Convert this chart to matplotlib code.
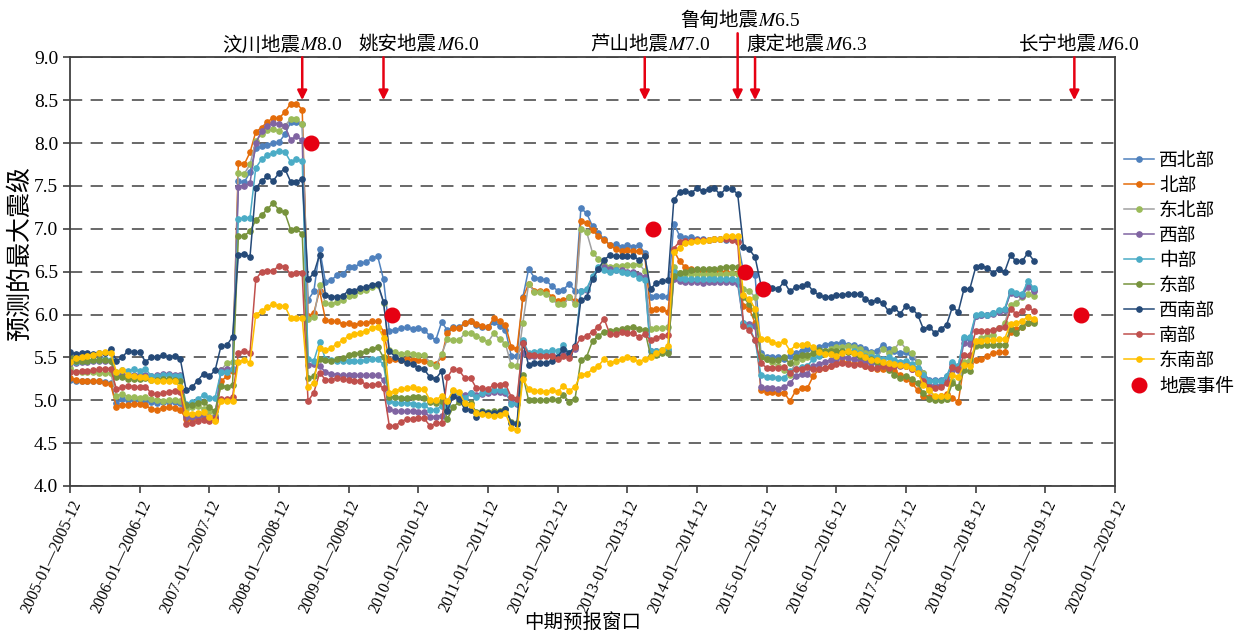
import numpy as np
import matplotlib
matplotlib.use('Agg')
import matplotlib.pyplot as plt

plt.rcParams['font.family'] = ['Liberation Serif', 'Noto Sans CJK SC']
plt.rcParams['mathtext.fontset'] = 'stix'
plt.rcParams['axes.unicode_minus'] = False

# one point per 12-month window, window start moves by one month from 2005-01
years = list(range(2005, 2021))
tick_labels = [f'{y}-01—{y}-12' for y in years]

regions = ['西北部', '北部', '东北部', '西部', '中部', '东部', '西南部', '南部', '东南部']

xibei = [
  5.24, 5.23, 5.22, 5.22, 5.22, 5.22, 5.21, 5.20,
  4.97, 5.01, 5.00, 5.00, 5.00, 5.00, 4.98, 4.97, 4.98, 4.98, 4.98, 4.97,
  4.82, 4.83, 4.84, 4.82, 4.80, 4.80,
  5.33, 5.33, 5.35,
  7.56, 7.54, 7.66, 7.94, 7.96, 7.98, 8.00, 8.01, 8.10, 8.24, 8.24, 8.22,
  6.17, 6.27, 6.76, 6.38, 6.40, 6.46, 6.47, 6.55, 6.55, 6.60, 6.61, 6.66, 6.68, 6.41,
  5.81, 5.82, 5.84, 5.85, 5.83, 5.84, 5.82, 5.75, 5.70, 5.91, 5.82, 5.85,
  5.85, 5.90, 5.92, 5.88, 5.86, 5.85, 5.91, 5.87, 5.82, 5.52, 5.52,
  6.20, 6.53, 6.43, 6.42, 6.40, 6.33, 6.28, 6.29, 6.36, 6.27,
  7.24, 7.18, 7.03, 6.95, 6.88, 6.81, 6.82, 6.79, 6.81, 6.79, 6.81, 6.72,
  6.20, 6.22, 6.22, 6.20,
  7.06, 6.92, 6.89, 6.90, 6.88, 6.88, 6.87, 6.88, 6.88, 6.87, 6.88, 6.86,
  6.50, 6.49, 6.46,
  5.55, 5.51, 5.50, 5.50, 5.48, 5.52, 5.55, 5.58, 5.60, 5.60, 5.62, 5.65,
  5.66, 5.66, 5.68, 5.65, 5.65, 5.62, 5.60, 5.56, 5.58, 5.65, 5.60, 5.58,
  5.55, 5.56, 5.50, 5.45, 5.32, 5.24, 5.24, 5.24, 5.28, 5.42, 5.40, 5.72,
  5.72, 5.98, 6.00, 6.00, 6.02, 6.04, 6.05, 6.26, 6.24, 6.23, 6.35, 6.29,
]

bei = [
  5.26, 5.24, 5.22, 5.22, 5.23, 5.22, 5.20, 5.19,
  4.92, 4.95, 4.95, 4.96, 4.96, 4.94, 4.90, 4.89, 4.91, 4.92, 4.91, 4.89,
  4.78, 4.77, 4.79, 4.80, 4.78, 4.77,
  5.22, 5.28, 5.34,
  7.77, 7.75, 7.89, 8.13, 8.18, 8.25, 8.29, 8.29, 8.36, 8.46, 8.46, 8.39,
  5.98, 6.02, 6.28, 5.94, 5.92, 5.92, 5.89, 5.90, 5.88, 5.90, 5.90, 5.92, 5.92, 5.80,
  5.47, 5.48, 5.47, 5.48, 5.47, 5.47, 5.46, 5.43, 5.42, 5.50, 5.79, 5.84,
  5.84, 5.90, 5.93, 5.89, 5.87, 5.85, 5.96, 5.92, 5.88, 5.62, 5.60,
  6.19, 6.36, 6.28, 6.28, 6.27, 6.21, 6.16, 6.17, 6.20, 6.16,
  7.09, 7.07, 6.98, 6.92, 6.87, 6.81, 6.76, 6.74, 6.75, 6.74, 6.74, 6.68,
  6.05, 6.06, 6.06, 6.03,
  6.75, 6.62, 6.55, 6.53, 6.52, 6.51, 6.51, 6.51, 6.50, 6.50, 6.49, 6.48,
  6.10, 6.07, 5.90,
  5.12, 5.10, 5.10, 5.09, 5.09, 4.99, 5.11, 5.14, 5.14, 5.28, 5.36, 5.38,
  5.40, 5.43, 5.45, 5.44, 5.42, 5.43, 5.40, 5.38, 5.36, 5.37, 5.36, 5.34,
  5.30, 5.25, 5.20, 5.12, 5.05, 5.04, 5.04, 5.05, 5.07, 5.03, 4.98, 5.42,
  5.44, 5.47, 5.48, 5.52, 5.55, 5.56, 5.56, 5.80, 5.83, 5.86, 5.90, 5.92,
]

dongbei = [
  5.38, 5.33, 5.33, 5.33, 5.33, 5.32, 5.32, 5.32,
  5.05, 5.07, 5.04, 5.04, 5.03, 5.04, 5.01, 5.00, 4.99, 5.00, 5.00, 4.99,
  4.90, 4.92, 4.93, 4.90, 4.88, 4.83,
  5.35, 5.43, 5.45,
  7.65, 7.64, 7.75, 8.02, 8.11, 8.15, 8.16, 8.14, 8.20, 8.28, 8.28, 8.22,
  5.95, 5.97, 6.35, 6.13, 6.12, 6.15, 6.17, 6.22, 6.23, 6.27, 6.29, 6.32, 6.35, 6.14,
  5.59, 5.56, 5.54, 5.55, 5.54, 5.53, 5.53, 5.44, 5.40, 5.54, 5.71, 5.70,
  5.70, 5.78, 5.79, 5.75, 5.72, 5.68, 5.78, 5.71, 5.66, 5.41, 5.40,
  5.90, 6.36, 6.26, 6.26, 6.24, 6.18, 6.12, 6.12, 6.20, 6.12,
  7.00, 6.96, 6.72, 6.65, 6.58, 6.56, 6.57, 6.57, 6.58, 6.58, 6.59, 6.51,
  5.83, 5.84, 5.84, 5.85,
  6.55, 6.48, 6.47, 6.47, 6.47, 6.47, 6.47, 6.47, 6.47, 6.47, 6.48, 6.47,
  6.30, 6.28, 6.20,
  5.52, 5.48, 5.45, 5.40, 5.35, 5.30, 5.45, 5.48, 5.50, 5.52, 5.55, 5.58,
  5.60, 5.62, 5.62, 5.63, 5.62, 5.60, 5.55, 5.55, 5.50, 5.60, 5.55, 5.60,
  5.68, 5.60, 5.55, 5.45, 5.32, 5.12, 5.02, 5.01, 5.02, 5.22, 5.16, 5.45,
  5.47, 5.63, 5.73, 5.75, 5.76, 5.84, 5.90, 6.11, 6.14, 6.20, 6.24, 6.22,
]

xi = [
  5.44, 5.44, 5.45, 5.45, 5.46, 5.46, 5.46, 5.46,
  5.28, 5.30, 5.30, 5.30, 5.30, 5.30, 5.28, 5.29, 5.31, 5.31, 5.30, 5.30,
  4.80, 4.80, 4.82, 4.83, 4.80, 4.80,
  5.35, 5.37, 5.37,
  7.49, 7.50, 7.53, 8.00, 8.14, 8.20, 8.23, 8.22, 8.20, 8.04, 8.08, 8.03,
  5.41, 5.42, 5.40, 5.33, 5.31, 5.30, 5.29, 5.29, 5.29, 5.29, 5.29, 5.29, 5.29, 5.24,
  4.90, 4.87, 4.87, 4.87, 4.87, 4.86, 4.86, 4.81, 4.81, 4.82, 4.89, 5.05,
  5.05, 5.06, 5.09, 5.06, 5.07, 5.09, 5.10, 5.10, 5.08, 4.98, 4.96,
  5.55, 5.52, 5.52, 5.53, 5.53, 5.53, 5.50, 5.54, 5.52, 5.60,
  6.27, 6.29, 6.44, 6.53, 6.56, 6.53, 6.52, 6.52, 6.50, 6.50, 6.46, 6.44,
  5.58, 5.57, 5.58, 5.58,
  6.42, 6.39, 6.38, 6.38, 6.38, 6.37, 6.38, 6.38, 6.38, 6.38, 6.38, 6.36,
  5.90, 5.89, 5.87,
  5.16, 5.14, 5.14, 5.13, 5.15, 5.20, 5.28, 5.31, 5.31, 5.40, 5.42, 5.45,
  5.47, 5.48, 5.50, 5.49, 5.48, 5.47, 5.45, 5.44, 5.43, 5.42, 5.44, 5.42,
  5.40, 5.40, 5.36, 5.33, 5.22, 5.18, 5.17, 5.18, 5.22, 5.35, 5.35, 5.67,
  5.66, 5.98, 5.99, 5.99, 6.01, 6.03, 6.05, 6.25, 6.24, 6.22, 6.32, 6.27,
]

zhong = [
  5.45, 5.45, 5.46, 5.46, 5.47, 5.47, 5.48, 5.47,
  5.33, 5.35, 5.34, 5.36, 5.34, 5.37, 5.28, 5.28, 5.29, 5.29, 5.28, 5.28,
  4.96, 4.98, 5.01, 5.06, 5.03, 5.03,
  5.33, 5.33, 5.36,
  7.11, 7.13, 7.13, 7.71, 7.81, 7.86, 7.88, 7.91, 7.90, 7.78, 7.81, 7.79,
  5.48, 5.46, 5.68, 5.48, 5.47, 5.46, 5.46, 5.46, 5.46, 5.46, 5.47, 5.48, 5.48, 5.42,
  4.99, 4.97, 4.97, 4.97, 4.96, 4.95, 4.95, 4.89, 4.89, 4.93, 4.93, 5.11,
  5.09, 5.03, 5.08, 5.04, 5.09, 5.11, 5.12, 5.12, 5.11, 4.96, 4.97,
  5.70, 5.55, 5.56, 5.58, 5.56, 5.59, 5.57, 5.64, 5.55, 5.62,
  6.27, 6.30, 6.45, 6.55, 6.52, 6.50, 6.52, 6.50, 6.48, 6.47, 6.43, 6.40,
  5.58, 5.58, 5.59, 5.60,
  6.50, 6.43, 6.42, 6.42, 6.42, 6.42, 6.42, 6.42, 6.42, 6.42, 6.42, 6.40,
  5.90, 5.85, 5.70,
  5.30, 5.27, 5.27, 5.26, 5.26, 5.34, 5.37, 5.39, 5.40, 5.48, 5.52, 5.55,
  5.55, 5.56, 5.58, 5.57, 5.57, 5.55, 5.52, 5.50, 5.50, 5.48, 5.50, 5.47,
  5.45, 5.46, 5.42, 5.38, 5.29, 5.23, 5.22, 5.23, 5.28, 5.45, 5.40, 5.74,
  5.74, 6.00, 6.01, 6.00, 6.02, 6.05, 6.07, 6.28, 6.25, 6.24, 6.39, 6.31,
]

dong = [
  5.50, 5.46, 5.46, 5.46, 5.47, 5.47, 5.47, 5.46,
  5.27, 5.27, 5.25, 5.25, 5.25, 5.26, 5.24, 5.24, 5.25, 5.25, 5.24, 5.23,
  4.94, 4.95, 4.97, 4.98, 4.92, 4.87,
  5.17, 5.16, 5.18,
  6.91, 6.92, 6.97, 7.10, 7.16, 7.23, 7.30, 7.22, 7.19, 6.99, 7.00, 6.94,
  5.26, 5.28, 5.48, 5.47, 5.46, 5.48, 5.49, 5.53, 5.54, 5.55, 5.57, 5.60, 5.62, 5.50,
  5.04, 5.04, 5.03, 5.03, 5.04, 5.04, 5.03, 4.98, 4.97, 4.99, 4.78, 4.92,
  4.98, 4.96, 4.97, 4.86, 4.87, 4.86, 4.87, 4.88, 4.90, 4.75, 4.74,
  5.29, 5.00, 5.00, 5.00, 5.00, 5.01, 5.00, 5.06, 4.98, 5.02,
  5.47, 5.51, 5.69, 5.75, 5.80, 5.81, 5.82, 5.83, 5.84, 5.86, 5.83, 5.82,
  5.52, 5.53, 5.55, 5.55,
  6.45, 6.48, 6.50, 6.52, 6.53, 6.53, 6.53, 6.53, 6.54, 6.56, 6.56, 6.56,
  6.20, 6.12, 6.00,
  5.50, 5.48, 5.47, 5.47, 5.50, 5.43, 5.51, 5.53, 5.53, 5.55, 5.59, 5.58,
  5.58, 5.58, 5.57, 5.56, 5.55, 5.52, 5.50, 5.48, 5.45, 5.40, 5.35, 5.30,
  5.26, 5.28, 5.25, 5.20, 5.08, 5.02, 5.00, 5.00, 5.01, 5.20, 5.15, 5.35,
  5.34, 5.64, 5.64, 5.64, 5.65, 5.65, 5.65, 5.83, 5.78, 5.86, 5.90, 5.90,
]

xinan = [
  5.56, 5.54, 5.55, 5.55, 5.54, 5.55, 5.55, 5.60,
  5.46, 5.50, 5.58, 5.56, 5.56, 5.45, 5.50, 5.50, 5.53, 5.50, 5.52, 5.48,
  5.12, 5.15, 5.23, 5.31, 5.28, 5.35,
  5.63, 5.64, 5.74,
  6.70, 6.71, 6.67, 7.47, 7.56, 7.61, 7.56, 7.65, 7.70, 7.55, 7.55, 7.58,
  6.41, 6.48, 6.70, 6.23, 6.21, 6.21, 6.22, 6.28, 6.28, 6.31, 6.32, 6.35, 6.36, 6.15,
  5.57, 5.51, 5.47, 5.44, 5.42, 5.38, 5.36, 5.27, 5.25, 5.34, 4.88, 5.05,
  5.01, 4.90, 4.89, 4.81, 4.86, 4.85, 4.85, 4.86, 4.90, 4.74, 4.72,
  5.67, 5.41, 5.44, 5.44, 5.44, 5.46, 5.51, 5.60, 5.55, 5.63,
  6.17, 6.20, 6.41, 6.53, 6.64, 6.69, 6.68, 6.68, 6.68, 6.68, 6.64, 6.68,
  6.30, 6.37, 6.39, 6.40,
  7.33, 7.43, 7.44, 7.42, 7.47, 7.44, 7.46, 7.47, 7.40, 7.47, 7.46, 7.41,
  6.79, 6.76, 6.67,
  6.35, 6.33, 6.31, 6.30, 6.38, 6.27, 6.32, 6.33, 6.36, 6.27, 6.23, 6.20,
  6.21, 6.23, 6.23, 6.24, 6.24, 6.24, 6.18, 6.15, 6.17, 6.13, 6.04, 6.08,
  6.01, 6.10, 6.07, 6.00, 5.83, 5.86, 5.78, 5.83, 5.88, 6.09, 6.03, 6.30,
  6.30, 6.55, 6.57, 6.54, 6.49, 6.53, 6.50, 6.69, 6.62, 6.62, 6.72, 6.63,
]

nan = [
  5.33, 5.33, 5.34, 5.34, 5.35, 5.36, 5.37, 5.37,
  5.13, 5.15, 5.17, 5.16, 5.15, 5.16, 5.08, 5.07, 5.08, 5.10, 5.11, 5.10,
  4.72, 4.74, 4.76, 4.77, 4.76, 4.78,
  5.01, 5.01, 5.04,
  5.55, 5.57, 5.55, 6.41, 6.50, 6.51, 6.51, 6.57, 6.56, 6.47, 6.48, 6.48,
  4.99, 5.09, 5.32, 5.24, 5.24, 5.26, 5.25, 5.24, 5.23, 5.23, 5.18, 5.18, 5.19, 5.14,
  4.70, 4.70, 4.75, 4.78, 4.78, 4.79, 4.79, 4.70, 4.73, 4.74, 5.27, 5.37,
  5.35, 5.26, 5.26, 5.14, 5.14, 5.13, 5.18, 5.18, 5.19, 5.04, 5.02,
  5.67, 5.53, 5.53, 5.52, 5.52, 5.52, 5.48, 5.52, 5.49, 5.62,
  5.73, 5.75, 5.80, 5.86, 5.95, 5.77, 5.77, 5.80, 5.79, 5.78, 5.74, 5.77,
  5.70, 5.73, 5.75, 5.76,
  6.77, 6.85, 6.86, 6.86, 6.87, 6.87, 6.87, 6.88, 6.88, 6.88, 6.87, 6.85,
  5.87, 5.82, 5.70,
  5.43, 5.38, 5.38, 5.38, 5.39, 5.32, 5.37, 5.37, 5.39, 5.37, 5.37, 5.38,
  5.40, 5.42, 5.43, 5.42, 5.41, 5.42, 5.40, 5.38, 5.38, 5.40, 5.38, 5.40,
  5.41, 5.40, 5.37, 5.32, 5.22, 5.16, 5.14, 5.15, 5.20, 5.39, 5.36, 5.53,
  5.53, 5.81, 5.81, 5.81, 5.82, 5.84, 5.86, 6.06, 6.01, 6.04, 6.09, 6.04,
]

dongnan = [
  5.45, 5.49, 5.50, 5.52, 5.53, 5.55, 5.56, 5.55,
  5.33, 5.35, 5.30, 5.28, 5.27, 5.27, 5.24, 5.23, 5.23, 5.23, 5.22, 5.15,
  4.85, 4.84, 4.85, 4.86, 4.80, 4.76,
  4.99, 4.99, 4.99,
  5.45, 5.47, 5.44, 6.00, 6.04, 6.09, 6.12, 6.10, 6.10, 5.96, 5.96, 5.96,
  5.16, 5.20, 5.61, 5.59, 5.61, 5.66, 5.70, 5.75, 5.77, 5.79, 5.81, 5.84, 5.86, 5.73,
  5.09, 5.11, 5.13, 5.14, 5.15, 5.13, 5.13, 5.00, 5.00, 5.05, 4.99, 5.12,
  5.10, 4.97, 4.95, 4.85, 4.84, 4.83, 4.82, 4.83, 4.85, 4.68, 4.65,
  5.25, 5.13, 5.11, 5.11, 5.10, 5.12, 5.10, 5.17, 5.11, 5.16,
  5.30, 5.31, 5.36, 5.40, 5.48, 5.43, 5.46, 5.48, 5.50, 5.48, 5.45, 5.48,
  5.50, 5.55, 5.59, 5.63,
  6.73, 6.78, 6.83, 6.85, 6.86, 6.86, 6.87, 6.88, 6.88, 6.92, 6.92, 6.91,
  6.23, 6.18, 6.07,
  5.71, 5.72, 5.68, 5.66, 5.69, 5.58, 5.64, 5.64, 5.66, 5.62, 5.56, 5.54,
  5.54, 5.52, 5.55, 5.58, 5.55, 5.54, 5.50, 5.47, 5.47, 5.45, 5.43, 5.42,
  5.41, 5.40, 5.38, 5.32, 5.18, 5.12, 5.05, 5.05, 5.05, 5.29, 5.27, 5.41,
  5.40, 5.69, 5.69, 5.70, 5.70, 5.71, 5.72, 5.89, 5.90, 5.93, 5.97, 5.95,
]

series = [xibei, bei, dongbei, xi, zhong, dong, xinan, nan, dongnan]
for s in series:
  assert len(s) == 167, len(s)

# earthquakes: window index of the quake month, and where the marker sits
quake_names = ['汶川地震', '姚安地震', '芦山地震', '鲁甸地震', '康定地震', '长宁地震']
quake_mag = [8.0, 6.0, 7.0, 6.5, 6.3, 6.0]
quake_idx = [40, 54, 99, 115, 118, 173]
quake_dot_x = [41.5, 55.5, 100.4, 116.2, 119.3, 174.2]

label_x = [39.6, 63.2, 103.0, 118.5, 130.0, 176.9]
label_y = [9.08, 9.08, 9.08, 9.36, 9.08, 9.08]
arrow_top = [9.0, 9.0, 9.0, 9.28, 9.0, 9.0]

line_colors = ['#4f81bd', '#e46c0a', '#a0a0a0', '#8064a2', '#4bacc6', '#77933c', '#254a78', '#c0504d', '#ffc000']
marker_colors = ['#4f81bd', '#e46c0a', '#9bbb59', '#8064a2', '#4bacc6', '#77933c', '#254a78', '#c0504d', '#ffc000']
quake_color = '#e60012'

fig = plt.figure(figsize=(12.37, 6.34), dpi=100)
ax = fig.add_axes([70/1237, 1-486/634, 1045/1237, 428.7/634])

for name, vals, lc, mc in zip(regions, series, line_colors, marker_colors):
  x = np.arange(len(vals))
  ax.plot(x, vals, '-o', color=lc, mfc=mc, mec=mc, lw=1.1, ms=3.8, label=name)

ax.plot(quake_dot_x, quake_mag, 'o', color=quake_color, ms=10.5, ls='none', label='地震事件', zorder=5)

for name, mag, idx, lx, ly, top in zip(quake_names, quake_mag, quake_idx, label_x, label_y, arrow_top):
  ax.annotate('', xy=(idx, 8.5), xytext=(idx, top),
              arrowprops=dict(arrowstyle='-|>', color=quake_color, lw=1.8,
                              mutation_scale=14, shrinkA=0, shrinkB=0),
              annotation_clip=False)
  ax.text(lx, ly, name, ha='right', va='baseline', fontsize=14, clip_on=False)
  ax.text(lx, ly, f'$M${mag:.1f}', ha='left', va='baseline', fontsize=14, clip_on=False)

ax.set_xlim(0, 180)
ax.set_ylim(4, 9)
ax.set_xticks(np.arange(0, 181, 12))
ax.set_xticklabels(tick_labels, rotation=65, ha='right', va='top', rotation_mode='anchor', fontsize=11.5)
ax.set_yticks(np.arange(4, 9.01, 0.5))
ax.set_yticklabels([f'{v:.1f}' for v in np.arange(4, 9.01, 0.5)], fontsize=14)
ax.tick_params(direction='out', length=5, width=1.2, color='#404040')

ax.yaxis.grid(True, linestyle=(0, (8, 5.5)), color='#404040', lw=1.1)
ax.set_axisbelow(True)
for sp in ax.spines.values():
  sp.set_color('#404040')
  sp.set_linewidth(1.3)

fig.text(20/1237, 1-254/634, '预测的最大震级', rotation=90, ha='center', va='center', fontsize=18)
fig.text(583/1237, 1-623/634, '中期预报窗口', ha='center', va='center', fontsize=14)

ax.legend(loc='upper left', bbox_to_anchor=(1.0086, 0.778), frameon=False, fontsize=13.5,
          handlelength=1.6, handletextpad=0.27, labelspacing=0.42, borderaxespad=0,
          borderpad=0, numpoints=1)

fig.savefig('out.png', dpi=100)
